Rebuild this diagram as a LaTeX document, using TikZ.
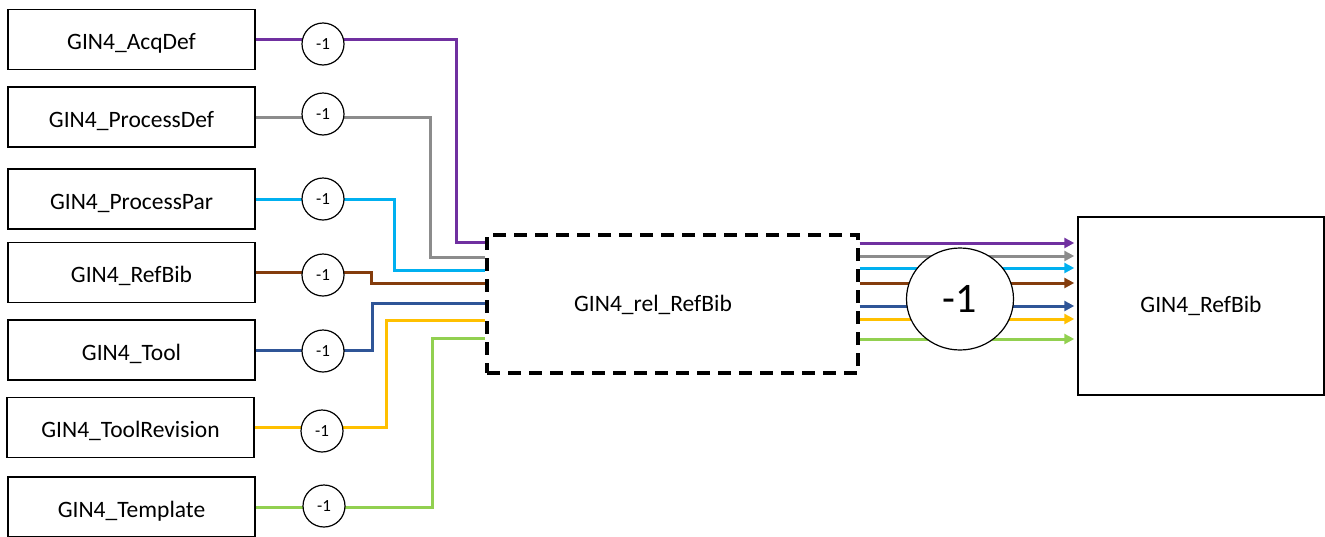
\documentclass[tikz,border=0pt]{standalone}
\usepackage{fontspec}
\setmainfont{Carlito}
\usetikzlibrary{arrows.meta,shapes.geometric}
\definecolor{cpurple}{HTML}{7030A0}
\definecolor{cgray}{HTML}{8C8C8C}
\definecolor{ccyan}{HTML}{00B0F0}
\definecolor{cbrown}{HTML}{843C0C}
\definecolor{cblue}{HTML}{2F5597}
\definecolor{cyellow}{HTML}{FFC000}
\definecolor{cgreen}{HTML}{92D050}
\begin{document}
\begin{tikzpicture}[x=1pt,y=-1pt,
  src/.style={draw, line width=1.5pt, minimum width=247pt, minimum height=60pt, inner sep=0pt, text height=22pt, text depth=2pt, font=\fontsize{23.5}{28}\selectfont},
  neg/.style={circle, draw, line width=1.2pt, fill=white, minimum size=42pt, inner sep=0pt, font=\fontsize{17}{20}\selectfont},
  wire/.style={line width=3pt},
  arr/.style={line width=3pt, shorten >=3pt, -{Triangle[length=10pt,width=10pt]}},
  relbox/.style={draw, line width=3.2pt, dash pattern=on 13pt off 8pt, minimum width=371pt, minimum height=138pt, inner sep=0pt},
  tgt/.style={draw, line width=1.5pt, minimum width=246pt, minimum height=178pt, inner sep=0pt, font=\fontsize{23.5}{28}\selectfont},
  big/.style={ellipse, draw, line width=1.2pt, fill=white, minimum width=107pt, minimum height=102pt, inner sep=0pt, font=\fontsize{42}{48}\selectfont},
]
\useasboundingbox (0,0) rectangle (1325,536);
\fill[white] (0,0) rectangle (1325,536);

% source boxes
\node[src] (b1) at (131.5,39.5) {GIN4\_AcqDef};
\node[src] (b2) at (131.5,117) {GIN4\_ProcessDef};
\node[src] (b3) at (131.5,199) {GIN4\_ProcessPar};
\node[src] (b4) at (131.5,272.5) {GIN4\_RefBib};
\node[src] (b5) at (131.5,350) {GIN4\_Tool};
\node[src] (b6) at (130.5,427.5) {GIN4\_ToolRevision};
\node[src] (b7) at (131.5,507) {GIN4\_Template};

% relation box
\node[relbox] (rel) at (672.5,304) {};
\node[font=\fontsize{23.5}{28}\selectfont] (rellabel) at (653,305) {GIN4\_rel\_RefBib};

% target box
\node[tgt] (rb) at (1201,306) {GIN4\_RefBib};

% turning points
\coordinate (k1) at (456,242);
\coordinate (k2) at (430,257);
\coordinate (k3) at (394,270);
\coordinate (k4) at (371,283);
\coordinate (k5) at (372,303);
\coordinate (k6) at (386,320);
\coordinate (k7) at (432,338);

\draw[wire,cpurple] (b1.east) -| (k1) -- (rel.west |- k1);
\draw[wire,cgray]   (b2.east) -| (k2) -- (rel.west |- k2);
\draw[wire,ccyan]   (b3.east) -| (k3) -- (rel.west |- k3);
\draw[wire,cbrown]  (b4.east) -| (k4) -- (rel.west |- k4);
\draw[wire,cblue]   (b5.east) -| (k5) -- (rel.west |- k5);
\draw[wire,cyellow] (b6.east) -| (k6) -- (rel.west |- k6);
\draw[wire,cgreen]  (b7.east) -| (k7) -- (rel.west |- k7);

% negation circles
\node[neg] (c1) at (323,44) {-1};
\node[neg] (c2) at (323,114) {-1};
\node[neg] (c3) at (323,199) {-1};
\node[neg] (c4) at (323,275) {-1};
\node[neg] (c5) at (323,351) {-1};
\node[neg] (c6) at (322,431) {-1};
\node[neg] (c7) at (324,506) {-1};

% output arrows
\coordinate (r1) at (0,243);
\coordinate (r2) at (0,256);
\coordinate (r3) at (0,268);
\coordinate (r4) at (0,283);
\coordinate (r5) at (0,306);
\coordinate (r6) at (0,319);
\coordinate (r7) at (0,339);
\draw[arr,cpurple] (rel.east |- r1) -- (rb.west |- r1);
\draw[arr,cgray]   (rel.east |- r2) -- (rb.west |- r2);
\draw[arr,ccyan]   (rel.east |- r3) -- (rb.west |- r3);
\draw[arr,cbrown]  (rel.east |- r4) -- (rb.west |- r4);
\draw[arr,cblue]   (rel.east |- r5) -- (rb.west |- r5);
\draw[arr,cyellow] (rel.east |- r6) -- (rb.west |- r6);
\draw[arr,cgreen]  (rel.east |- r7) -- (rb.west |- r7);

\node[big] (bign) at (960,299) {-1};
\end{tikzpicture}
\end{document}
